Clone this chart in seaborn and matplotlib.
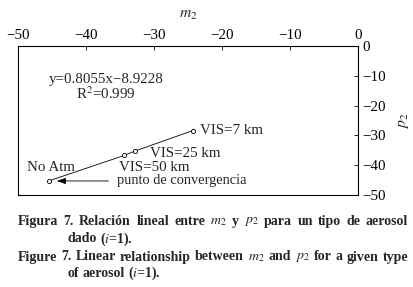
import matplotlib
matplotlib.use("Agg")
import matplotlib.pyplot as plt
import seaborn as sns
import pandas as pd

# values
m2 = [-45.5, -34.4, -32.8, -24.3]
p2 = [-45.4, -36.8, -35.3, -28.4]
labels = ["No Atm", "VIS=50 km", "VIS=25 km", "VIS=7 km"]
xticks = [-50, -40, -30, -20, -10, 0]
yticks = [0, -10, -20, -30, -40, -50]

df = pd.DataFrame({"m2": m2, "p2": p2, "label": labels})

sns.set_style("white")
plt.rcParams["font.family"] = ["Liberation Serif", "DejaVu Serif"]
plt.rcParams["mathtext.fontset"] = "stix"
plt.rcParams["axes.unicode_minus"] = True

fs = 10.8
fig = plt.figure(figsize=(4.14, 2.87), dpi=100)
ax = fig.add_axes([0.0435, 0.322, 0.821, 0.516])

sns.lineplot(data=df, x="m2", y="p2", color="black", lw=0.6, ax=ax, sort=True)
sns.scatterplot(data=df, x="m2", y="p2", s=9, facecolor="white", edgecolor="black",
                linewidth=0.6, ax=ax, zorder=3)

ax.set_xlim(-50, 0)
ax.set_ylim(-50, 0)
ax.xaxis.tick_top()
ax.xaxis.set_label_position("top")
ax.yaxis.tick_right()
ax.yaxis.set_label_position("right")
ax.set_xticks(xticks)
ax.set_yticks(yticks)
ax.tick_params(direction="in", length=3, width=0.6, labelsize=fs, pad=3, colors="black")
ax.set_xlabel("$m_2$", fontsize=fs + 0.5, labelpad=8)
ax.set_ylabel("$p_2$", fontsize=fs + 0.5, labelpad=7)
for s in ax.spines.values():
    s.set_color("black")
    s.set_linewidth(0.8)

# point labels (offsets in points)
offs = [(1.5, 10, "center", "center"), (-4, -8.5, "left", "center"),
        (11, -2, "left", "center"), (5.5, 0, "left", "center")]
for (x, y, t), (dx, dy, ha, va) in zip(zip(m2, p2, labels), offs):
    ax.annotate(t, (x, y), xytext=(dx, dy), textcoords="offset points",
                ha=ha, va=va, fontsize=fs)

ax.annotate("punto de convergencia", (m2[0], p2[0]), xytext=(49.5, 0),
            textcoords="offset points", ha="left", va="center", fontsize=fs - 0.4,
            arrowprops=dict(arrowstyle="-|>,head_length=0.5,head_width=0.18",
                            color="black", lw=0.6, shrinkA=4, shrinkB=6))

ax.text(0.26, 0.72, "y=0.8055x\u22128.9228\nR$^2$=0.999", transform=ax.transAxes,
        fontsize=fs, va="center", ha="center", multialignment="center",
        linespacing=0.95)

# caption, justified word by word
W, H = 414, 287
renderer = fig.canvas.get_renderer()
cap = dict(fontsize=10, fontweight="bold", va="center", ha="left")


def caption_line(text, x0, x1, y, justify=True):
    words = text.split(" ")
    objs = [fig.text(x0 / W, 1 - y / H, w, **cap) for w in words]
    widths = [o.get_window_extent(renderer).width for o in objs]
    space = objs[0].get_window_extent(renderer).width * 0 + 3.0
    if justify and len(words) > 1:
        space = (x1 - x0 - sum(widths)) / (len(words) - 1)
    x = x0
    for o, w in zip(objs, widths):
        o.set_x(x / W)
        x += w + space


caption_line("Figura 7. Relación lineal entre $m_2$ y $p_2$ para un tipo de aerosol",
             18, 408, 221.5)
caption_line("dado ($i$=1).", 68, 408, 239, justify=False)
caption_line("Figure 7. Linear relationship between $m_2$ and $p_2$ for a given type",
             18, 408, 257)
caption_line("of aerosol ($i$=1).", 68, 408, 273.5, justify=False)

fig.savefig("out.png", dpi=100)
